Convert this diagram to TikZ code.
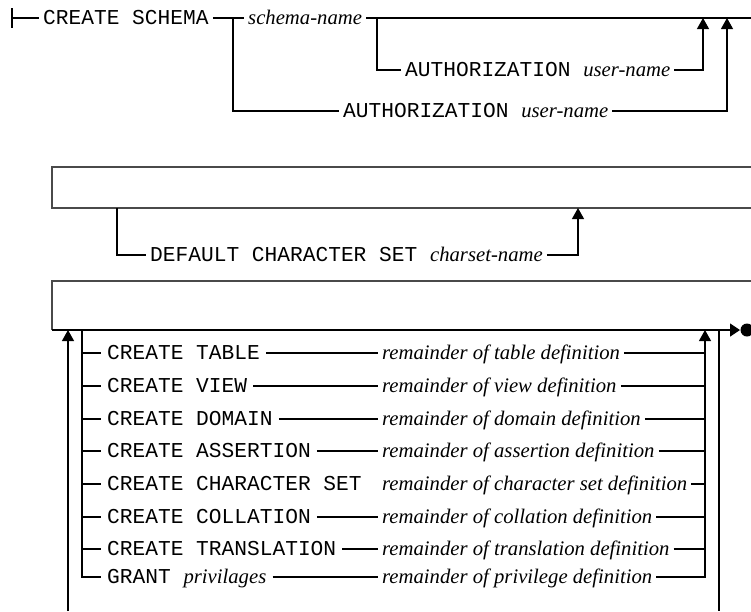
\documentclass[tikz,border=0pt]{standalone}
\usepackage{fontspec}
\setmonofont{Liberation Mono}
\newfontfamily\argfont{Liberation Serif}
\usetikzlibrary{arrows.meta, positioning}
\usepackage{xcolor}
\definecolor{RailBlack}{HTML}{000000}
\definecolor{WrapGray}{HTML}{4A4A4A}
\newcommand{\argname}[1]{{\argfont\itshape\fontsize{20.7}{24}\selectfont #1}}
\tikzset{
    % Text standing on the rail
    keyword/.style={
        rectangle,
        inner xsep=4pt,
        inner ysep=0pt,
        text height=12pt,
        text depth=0pt,
        anchor=west,
        font=\ttfamily\fontsize{21.2}{24}\selectfont
    },
    % Rail styles
    rail/.style={
        line width=1.2pt,
        draw=RailBlack
    },
    railarrow/.style={
        -{Triangle[length=11pt,width=12pt]},
        line width=1.2pt,
        draw=RailBlack
    },
    wrapline/.style={
        line width=1.8pt,
        draw=WrapGray
    }
}

\begin{document}
\begin{tikzpicture}[x=1pt, y=-1pt]
    \useasboundingbox (0,0) rectangle (751,611);

    % first line
    \draw[rail] (12,8) -- (12,28);
    \coordinate (start) at (12,18);
    \node[keyword] (cs) at (39,18) {CREATE SCHEMA};
    \node[keyword] (sn) at (244,18) {\argname{schema-name}};
    \coordinate (fork1) at (233,18);
    \coordinate (fork2) at (377,18);
    \coordinate (join1) at (703,18);
    \coordinate (join2) at (727,18);
    \coordinate (wrap1) at (751,18);
    \node[keyword] (auth1) at (401,70) {AUTHORIZATION \argname{user-name}};
    \node[keyword] (auth2) at (339,111) {AUTHORIZATION \argname{user-name}};

    \draw[rail] (start) -- (cs.west);
    \draw[rail] (cs.east) -- (sn.west);
    \draw[rail] (sn.east) -- (wrap1);
    \draw[rail] (fork2) |- (auth1.west);
    \draw[railarrow] (auth1.east) -| (join1);
    \draw[rail] (fork1) |- (auth2.west);
    \draw[railarrow] (auth2.east) -| (join2);

    % second line
    \draw[wrapline] (751,167) -- (52,167) -- (52,208) -- (751,208);
    \coordinate (fork3) at (117,208);
    \coordinate (join3) at (578,208);
    \node[keyword] (dcs) at (146,255) {DEFAULT CHARACTER SET \argname{charset-name}};
    \draw[rail] (fork3) |- (dcs.west);
    \draw[railarrow] (dcs.east) -| (join3);

    % third line
    \draw[wrapline] (751,281) -- (52,281) -- (52,330);
    \coordinate (wrap2) at (52,330);
    \coordinate (fin) at (740,330);
    \draw[rail, -{Triangle[length=10pt,width=13pt]}] (wrap2) -- (fin);
    \fill[RailBlack] (747,330) circle[radius=6.5pt];

    \coordinate (loopin) at (68,611);
    \coordinate (loopup) at (68,330);
    \coordinate (fork4) at (82,330);
    \coordinate (join4) at (705,330);
    \coordinate (loopout) at (719,330);
    \draw[railarrow] (loopin) -- (loopup);
    \draw[rail] (loopout) -- (719,611);

    \foreach \y/\kw/\what [count=\i] in {
        353/{CREATE TABLE}/table,
        386/{CREATE VIEW}/view,
        419/{CREATE DOMAIN}/domain,
        451/{CREATE ASSERTION}/assertion,
        484/{CREATE CHARACTER SET}/{character set},
        517/{CREATE COLLATION}/collation,
        549/{CREATE TRANSLATION}/translation,
        577/{GRANT \argname{privilages}}/privilege} {
        \node[keyword, inner xsep=6pt] (kw\i) at (101,\y) {\kw};
        \node[keyword] (rem\i) at (378,\y) {\argname{remainder of \what\ definition}};
    }

    \foreach \i in {1,...,7}
        \draw[rail] (kw\i.west -| fork4) -- (kw\i.west);
    \draw[rail] (fork4) |- (kw8.west);
    \foreach \i in {1,2,3,4,6,7,8}
        \draw[rail] (kw\i.east) -- (rem\i.west);
    \foreach \i in {1,...,7}
        \draw[rail] (rem\i.east) -- (rem\i.east -| join4);
    \draw[railarrow] (rem8.east) -| (join4);
\end{tikzpicture}
\end{document}
